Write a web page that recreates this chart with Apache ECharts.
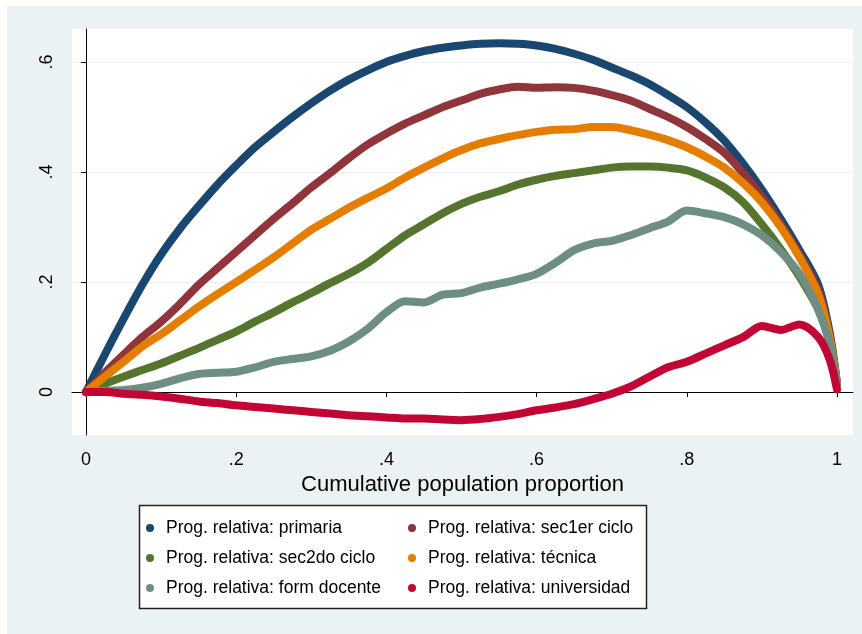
<!DOCTYPE html>
<html>
<head>
<meta charset="utf-8">
<script src="https://cdn.jsdelivr.net/npm/echarts@6/dist/echarts.min.js"></script>
<style>
  body { margin: 0; background: #fff; }
  #chart { width: 862px; height: 634px; }
</style>
</head>
<body>
<div id="chart"></div>
<script>
// cumulative population proportion (shared x for every curve)
const xs = [0,0.025,0.05,0.075,0.1,0.125,0.15,0.175,0.2,0.225,
  0.25,0.275,0.3,0.325,0.35,0.375,0.4,0.425,0.45,0.475,
  0.5,0.525,0.55,0.575,0.6,0.625,0.65,0.675,0.7,0.725,
  0.75,0.775,0.8,0.825,0.85,0.875,0.9,0.925,0.95,0.975,
  0.99,1]

const primaria = [0,0.068,0.133,0.195,0.25,0.297,0.338,0.377,0.412,0.445,
  0.473,0.50,0.525,0.548,0.568,0.585,0.60,0.611,0.62,0.626,
  0.63,0.633,0.634,0.633,0.63,0.624,0.615,0.604,0.59,0.576,
  0.56,0.54,0.518,0.49,0.457,0.415,0.368,0.315,0.258,0.195,
  0.11,0.015]
const sec1er = [0,0.035,0.068,0.10,0.128,0.16,0.195,0.225,0.255,0.285,
  0.315,0.343,0.372,0.398,0.425,0.45,0.47,0.488,0.503,0.518,
  0.53,0.542,0.55,0.555,0.553,0.554,0.553,0.548,0.54,0.53,
  0.515,0.50,0.482,0.46,0.435,0.398,0.355,0.305,0.25,0.185,
  0.105,0.015]
const sec2do = [0,0.015,0.028,0.04,0.052,0.066,0.08,0.095,0.11,0.128,
  0.145,0.163,0.18,0.198,0.215,0.235,0.26,0.285,0.305,0.325,
  0.342,0.355,0.365,0.377,0.386,0.393,0.398,0.403,0.408,0.41,
  0.41,0.408,0.403,0.39,0.372,0.345,0.305,0.26,0.21,0.15,
  0.09,0.015]
const tecnica = [0,0.028,0.055,0.083,0.105,0.13,0.155,0.178,0.20,0.222,
  0.245,0.27,0.295,0.315,0.335,0.353,0.37,0.39,0.408,0.425,
  0.44,0.452,0.46,0.467,0.473,0.477,0.478,0.482,0.482,0.476,
  0.468,0.458,0.445,0.428,0.408,0.38,0.345,0.30,0.245,0.178,
  0.10,0.015]
const docente = [0,0.002,0.004,0.008,0.015,0.025,0.033,0.035,0.037,0.045,
  0.055,0.06,0.065,0.075,0.092,0.115,0.145,0.165,0.163,0.177,
  0.18,0.19,0.197,0.205,0.215,0.235,0.258,0.27,0.275,0.285,
  0.298,0.31,0.33,0.325,0.318,0.305,0.285,0.255,0.215,0.15,
  0.09,0.015]
const universidad = [0,0,-0.003,-0.005,-0.008,-0.012,-0.017,-0.02,-0.024,-0.027,
  -0.03,-0.033,-0.036,-0.039,-0.042,-0.044,-0.046,-0.048,-0.048,-0.05,
  -0.051,-0.049,-0.045,-0.04,-0.033,-0.028,-0.022,-0.013,-0.003,0.01,
  0.028,0.045,0.055,0.07,0.085,0.1,0.12,0.113,0.123,0.1,
  0.06,0.005]

const names = ['Prog. relativa: primaria','Prog. relativa: sec1er ciclo',
  'Prog. relativa: sec2do ciclo','Prog. relativa: técnica',
  'Prog. relativa: form docente','Prog. relativa: universidad']
const colors = ['#1A476F','#90353B','#55752F','#E37E00','#6E8E84','#C10534']
const xTicks = [0,0.2,0.4,0.6,0.8,1]
const yTicks = [0,0.2,0.4,0.6]

const font = '"Liberation Sans", Arial, sans-serif'
const fs = 18
// stata style labels: .2 instead of 0.2
const fmt = v => (v === 0 || v === 1) ? String(v) : String(v).replace(/^0/, '')

const chart = echarts.init(document.getElementById('chart'))
const allData = [primaria, sec1er, sec2do, tecnica, docente, universidad]

// legend: two columns, each one a vertical legend
const legendCol = (left, data) => ({
  orient: 'vertical', left: left, top: 518, padding: 0,
  icon: 'circle', itemWidth: 10, itemHeight: 8, itemGap: 10,
  textStyle: { fontFamily: font, fontSize: 17.5, lineHeight: 20, color: '#000', padding: [0, 0, 0, 6] },
  data: data
})

chart.setOption({
  animation: false,
  color: colors,
  graphic: [{
    type: 'rect', z: -10,
    shape: { x: 7, y: 6, width: 855, height: 628 },
    style: { fill: '#EAF2F3' }
  }, {
    type: 'rect', z: -5,
    shape: { x: 139.5, y: 505.5, width: 507, height: 103 },
    style: { fill: '#fff', stroke: '#222', lineWidth: 1.5 }
  }],
  grid: {
    left: 72, top: 29, right: 9, bottom: 199,
    show: true, backgroundColor: '#fff', borderWidth: 0
  },
  legend: [
    legendCol(146, [names[0], names[2], names[4]]),
    legendCol(408, [names[1], names[3], names[5]])
  ],
  xAxis: {
    type: 'value', min: -0.0186, max: 1.0213,
    name: 'Cumulative population proportion',
    nameLocation: 'middle', nameGap: 34,
    nameTextStyle: { fontFamily: font, fontSize: 22, color: '#000' },
    axisLine: { show: true, lineStyle: { color: '#000', width: 1 } },
    axisTick: { show: true, length: 5, customValues: xTicks, lineStyle: { color: '#000' } },
    axisLabel: { customValues: xTicks, margin: 16, fontFamily: font, fontSize: fs, color: '#000', formatter: fmt },
    splitLine: { show: false }
  },
  yAxis: {
    type: 'value', min: -0.078, max: 0.66,
    axisLine: { show: true, lineStyle: { color: '#000', width: 1 } },
    axisTick: { show: true, length: 5, customValues: yTicks, lineStyle: { color: '#000' } },
    axisLabel: { customValues: yTicks, rotate: 90, margin: 16, fontFamily: font, fontSize: fs, color: '#000', formatter: fmt },
    splitLine: { show: true, lineStyle: { color: '#EAF2F3', width: 1 } }
  },
  series: allData.map((arr, k) => ({
    name: names[k],
    type: 'line',
    showSymbol: false,
    smooth: 0.3,
    data: xs.map((x, i) => [x, arr[i]]),
    lineStyle: { width: 8, cap: 'round', join: 'round' }
  }))
})
</script>
</body>
</html>
